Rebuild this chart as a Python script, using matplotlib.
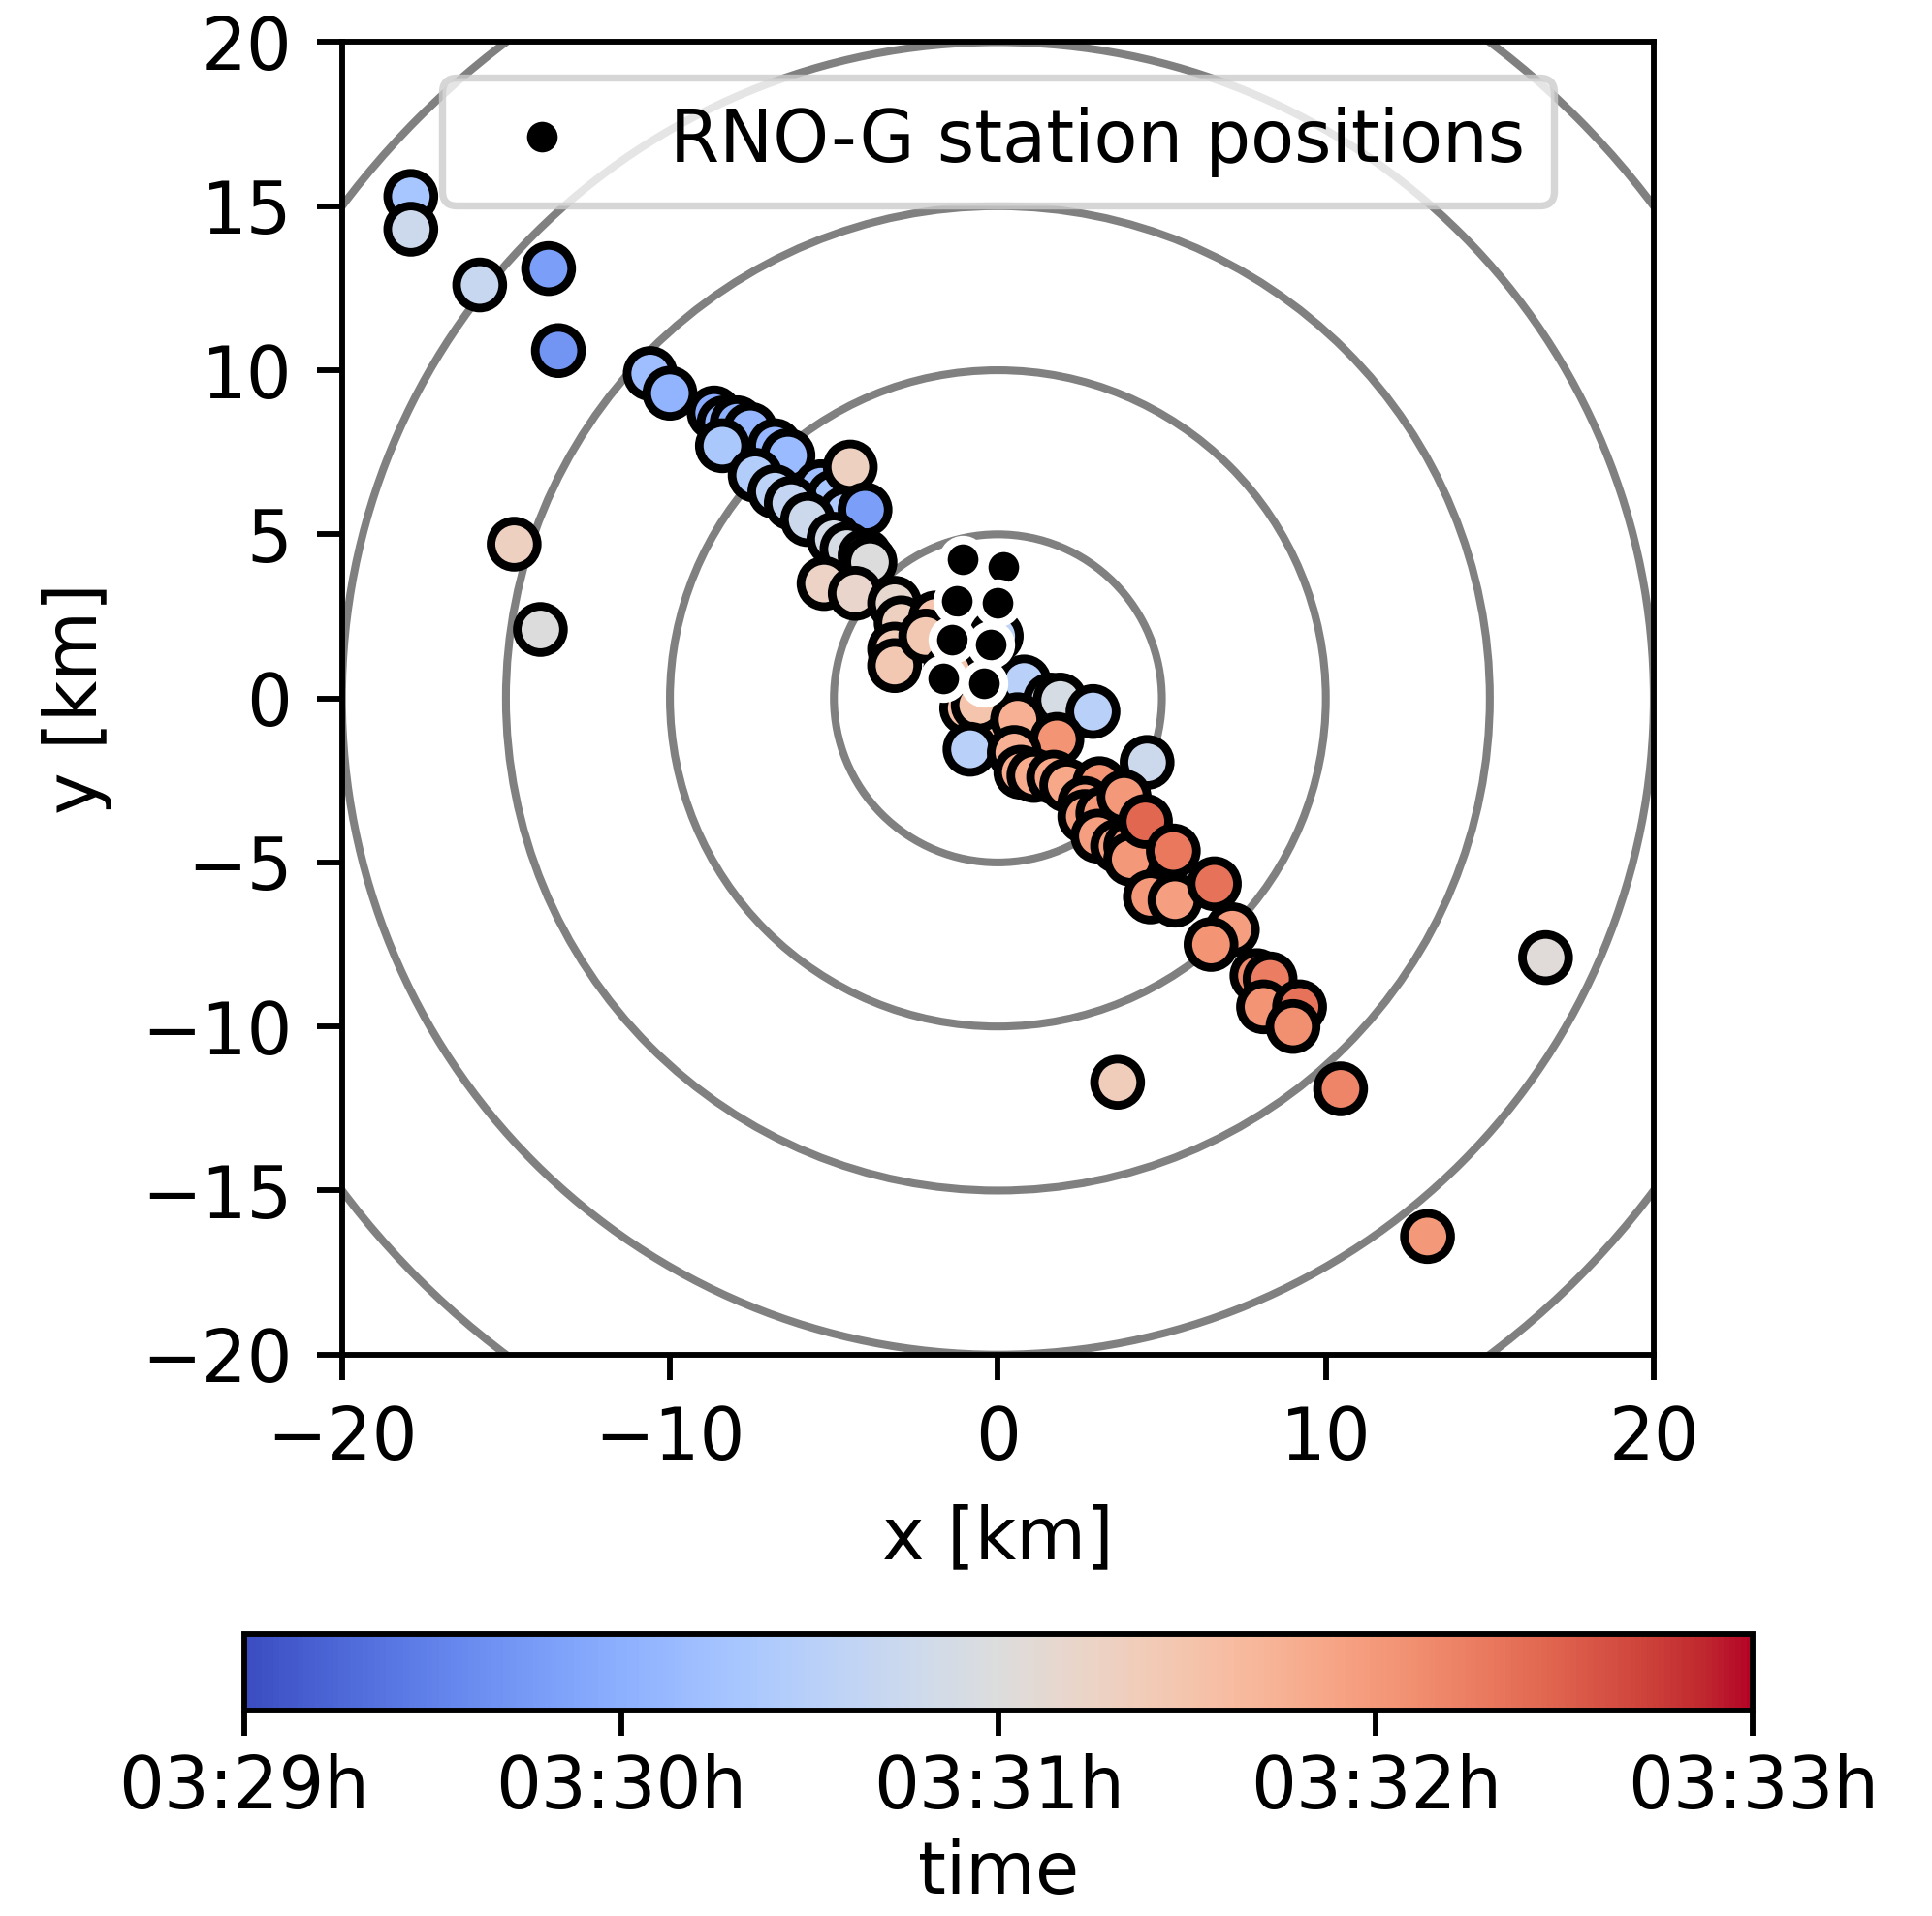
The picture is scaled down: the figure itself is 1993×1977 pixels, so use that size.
import matplotlib
matplotlib.use("Agg")
import matplotlib.pyplot as plt
from matplotlib.patches import Circle
import numpy as np

# reconstructed event positions [km] and arrival time [min after 03:29]
event_x = [-17.9, -17.9, -15.8, -13.7, -13.4, -10.6, -10.0, -8.65, -8.35, -7.95,
           -7.55, -8.4, -6.8, -6.4, -7.4, -6.8, -5.4, -5.0, -6.3, -4.65,
           -5.8, -4.5, -4.05, -5.0, -4.6, -4.05, -3.9, -5.3, -4.35, -3.15,
           -2.95, -3.15, -3.15, -1.9, -2.2, -1.45, -0.05, -0.95, -0.1, -0.6,
           0.8, 1.6, 1.9, 2.9, -0.85, 0.6, 1.8, 0.5, 0.7, 1.1,
           1.7, 2.1, 3.1, 4.55, 2.65, 2.65, 3.2, 3.85, 3.05, 3.65,
           4.05, 4.05, 4.5, 5.35, 4.65, 5.4, 6.6, 7.15, 6.5, 7.9,
           8.3, 8.1, 9.2, 9.0, 10.45, 13.1, 3.65, 16.7, -14.75, -13.95]
event_y = [15.3, 14.3, 12.6, 13.1, 10.6, 9.9, 9.3, 8.7, 8.4, 8.4,
           8.2, 7.7, 7.7, 7.4, 6.8, 6.3, 6.45, 6.15, 5.95, 5.65,
           5.45, 7.05, 5.75, 4.85, 4.55, 4.35, 4.15, 3.5, 3.2, 2.9,
           2.3, 1.5, 1.0, 2.45, 1.9, 0.85, 1.9, -0.3, -0.55, -0.2,
           0.5, -0.05, -0.05, -0.4, -1.55, -0.65, -1.25, -1.65, -2.25, -2.35,
           -2.4, -2.65, -2.6, -1.95, -3.2, -3.6, -3.5, -3.0, -4.2, -4.5,
           -4.5, -4.9, -3.75, -4.65, -6.05, -6.15, -5.65, -7.05, -7.5, -8.45,
           -8.55, -9.4, -9.4, -10.0, -11.9, -16.4, -11.7, -7.9, 4.7, 2.1]
event_t = [1.3, 1.75, 1.7, 0.8, 0.7, 1.2, 1.05, 0.95, 1.05, 1.0,
           1.1, 1.35, 1.1, 1.15, 1.45, 1.55, 1.2, 1.3, 1.65, 1.4,
           1.75, 2.3, 0.8, 1.85, 1.9, 1.95, 2.0, 2.25, 2.2, 2.15,
           2.3, 2.4, 2.45, 2.5, 2.45, 2.5, 1.6, 2.55, 2.6, 2.5,
           1.5, 1.95, 1.9, 1.5, 1.5, 2.75, 3.05, 2.75, 2.8, 2.8,
           2.85, 2.85, 3.05, 1.75, 2.95, 2.95, 3.0, 3.0, 2.95, 2.95,
           3.0, 3.0, 3.45, 3.3, 3.0, 2.95, 3.35, 2.95, 3.05, 3.15,
           3.25, 3.05, 3.35, 3.1, 3.2, 3.0, 2.35, 2.05, 2.3, 2.0]

station_x = [-1.08, 0.16, -1.26, -0.01, -1.40, -0.22, -1.67, -0.43]
station_y = [4.25, 4.02, 2.98, 2.90, 1.80, 1.65, 0.62, 0.47]

ring_radii = [5, 10, 15, 20, 25]
time_ticks = [0, 1, 2, 3, 4]
time_labels = ["03:29h", "03:30h", "03:31h", "03:32h", "03:33h"]

DPI = 530
fig = plt.figure(figsize=(1993 / DPI, 1977 / DPI), dpi=DPI)
ax = fig.add_axes([0.177, 0.293, 0.679, 0.685])
cax = fig.add_axes([0.1264, 0.1072, 0.781, 0.040])

for r in ring_radii:
    ax.add_patch(Circle((0, 0), r, fill=False, ec="gray", lw=1.1, zorder=1))

sc = ax.scatter(event_x, event_y, c=event_t, cmap="coolwarm", vmin=0, vmax=4,
                s=42, edgecolors="k", linewidths=1.2, zorder=2)
ax.plot(station_x, station_y, "o", ls="none", color="k", mec="white", ms=5.5,
        mew=1.2, zorder=3, label="RNO-G station positions")

ax.set_xlim(-20, 20)
ax.set_ylim(-20, 20)
ax.set_xticks([-20, -10, 0, 10, 20])
ax.set_yticks([-20, -15, -10, -5, 0, 5, 10, 15, 20])
ax.set_xlabel("x [km]")
ax.set_ylabel("y [km]")
ax.legend(loc="upper center")

cb = fig.colorbar(sc, cax=cax, orientation="horizontal")
cb.set_ticks(time_ticks)
cb.set_ticklabels(time_labels)
cb.ax.tick_params(pad=2.5)
cb.set_label("time", labelpad=2)

fig.savefig("out.png", dpi=DPI)
